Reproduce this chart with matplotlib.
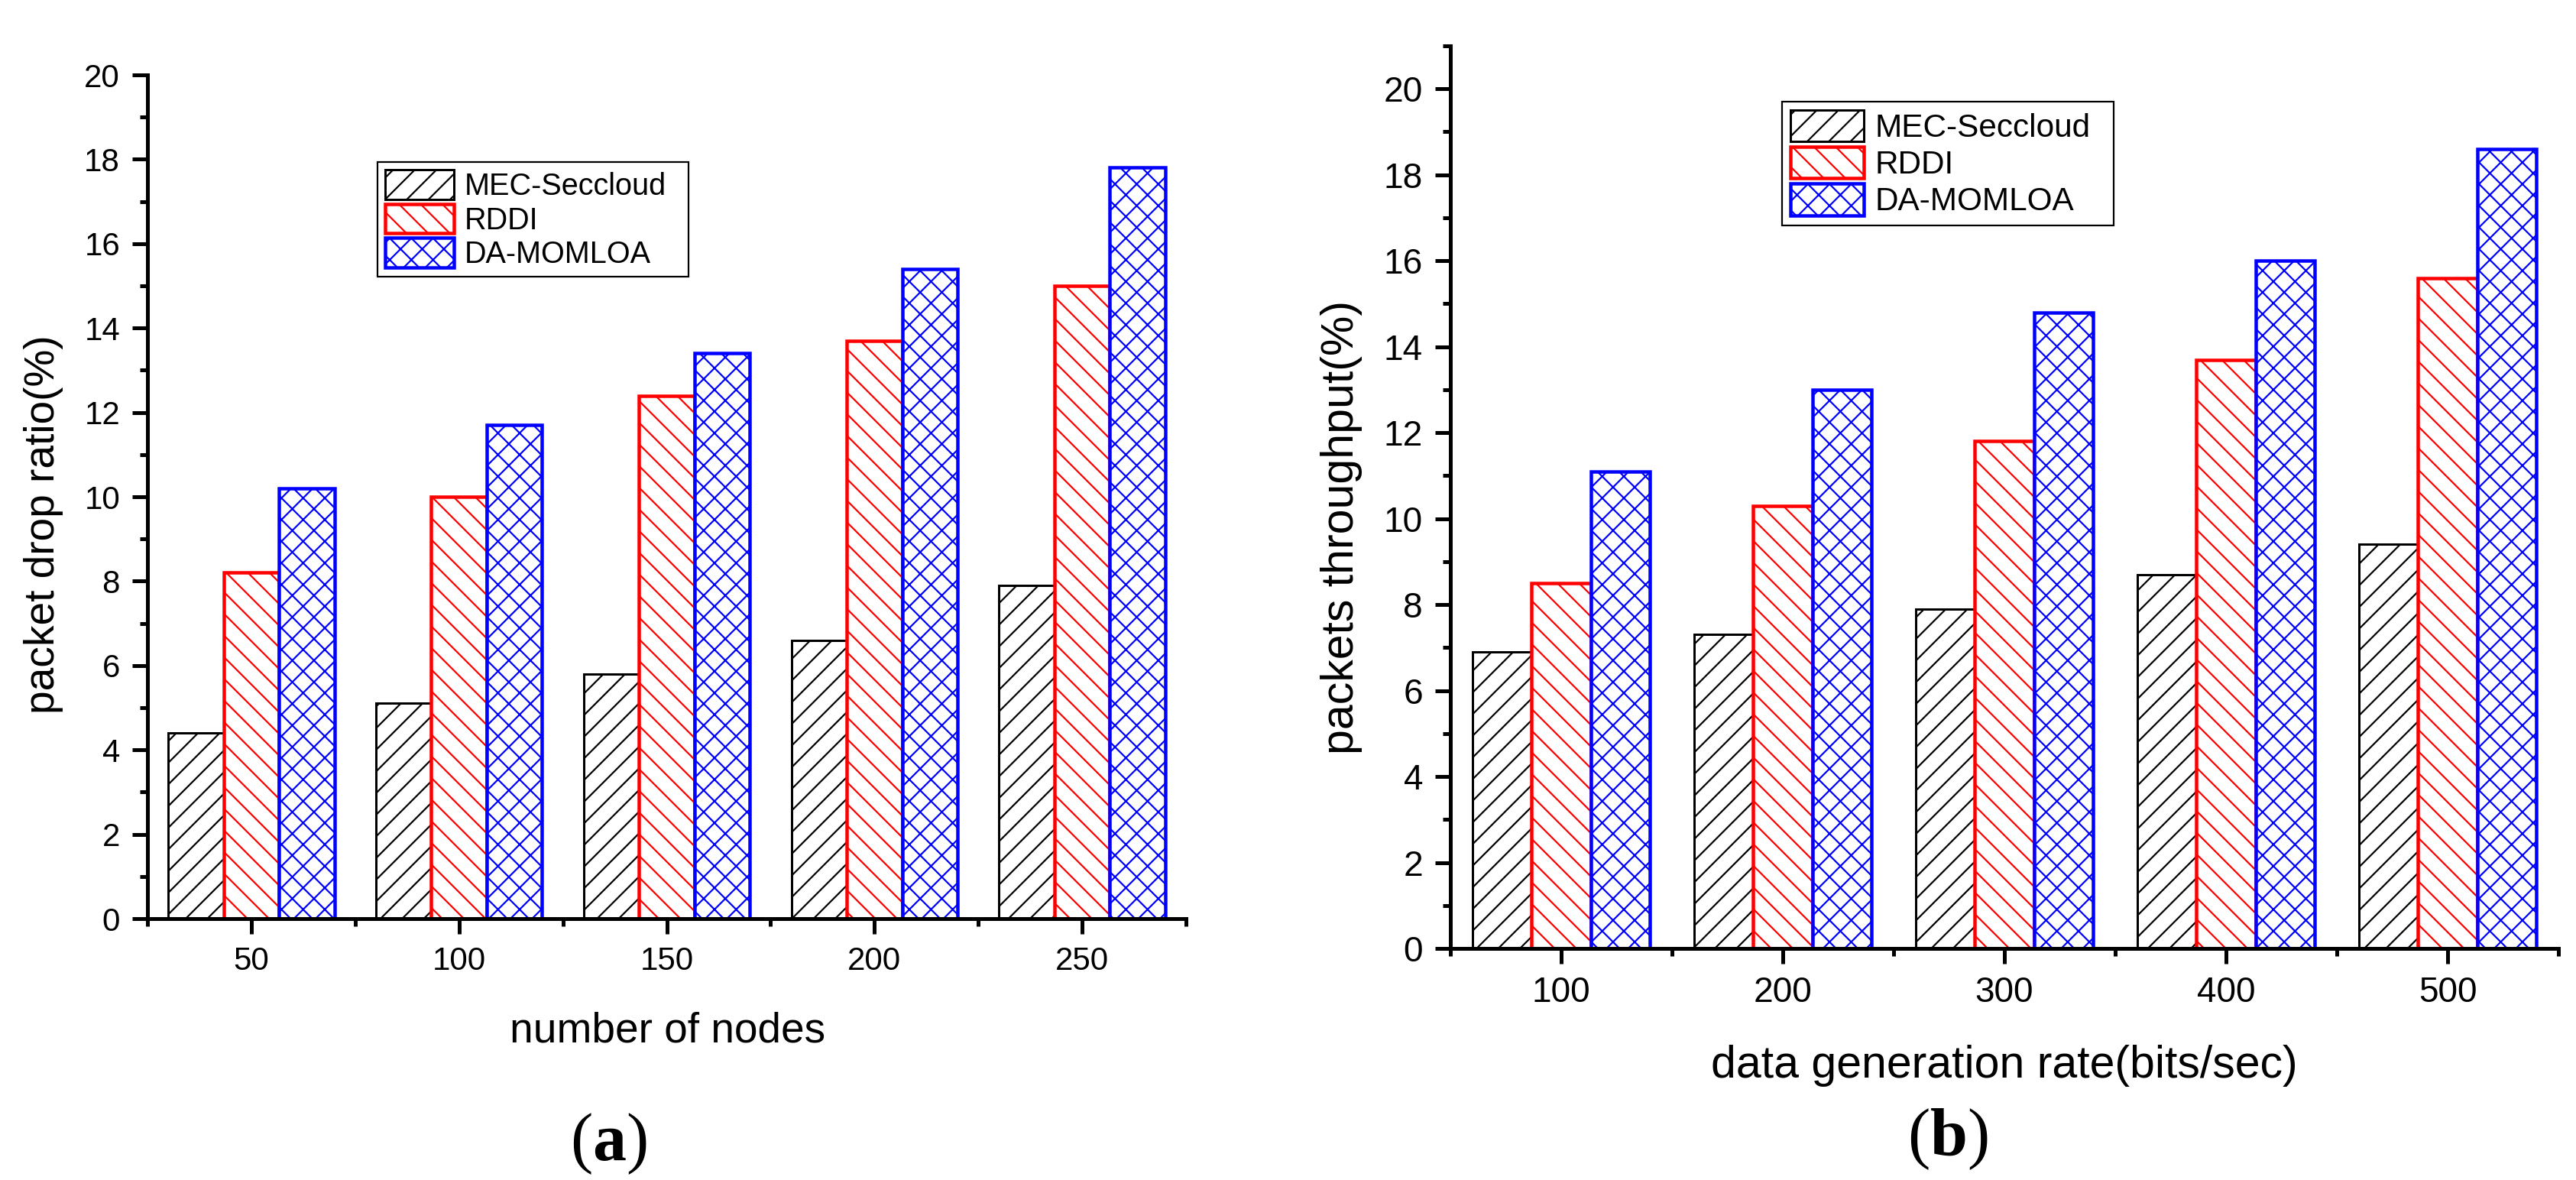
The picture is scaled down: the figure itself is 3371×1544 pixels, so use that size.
import numpy as np
import matplotlib
matplotlib.use("Agg")
import matplotlib.pyplot as plt

DPI = 85
W, H = 3371, 1544

# data
series = ["MEC-Seccloud", "RDDI", "DA-MOMLOA"]
nodes = ["50", "100", "150", "200", "250"]
drop_mec = [4.4, 5.1, 5.8, 6.6, 7.9]
drop_rddi = [8.2, 10.0, 12.4, 13.7, 15.0]
drop_da = [10.2, 11.7, 13.4, 15.4, 17.8]

rates = ["100", "200", "300", "400", "500"]
thr_mec = [6.9, 7.3, 7.9, 8.7, 9.4]
thr_rddi = [8.5, 10.3, 11.8, 13.7, 15.6]
thr_da = [11.1, 13.0, 14.8, 16.0, 18.6]

colors = ["black", "red", "blue"]
hatches = ["/", "\\", "x"]
edge_px = [3, 4.5, 4.5]


def pt(px):
    # pixels -> points at the figure dpi
    return px * 72.0 / DPI


plt.rcParams["font.family"] = ["Liberation Sans", "DejaVu Sans"]
plt.rcParams["hatch.linewidth"] = pt(2.2)
plt.rcParams["mathtext.fontset"] = "custom"
plt.rcParams["mathtext.bf"] = "Liberation Serif:bold"
plt.rcParams["mathtext.rm"] = "Liberation Serif"

fig = plt.figure(figsize=(W / DPI, H / DPI), dpi=DPI)


def panel(rect, cats, vals, ymax, tick_px, lab_px, leg_rect, leg_px):
    ax = fig.add_axes(rect)
    x = np.arange(len(cats))
    bw = 0.8 / 3
    for i, v in enumerate(vals):
        ax.bar(x + (i - 1) * bw, v, bw, facecolor="white", edgecolor=colors[i],
               hatch=hatches[i], linewidth=pt(edge_px[i]), label=series[i], zorder=2)
    ax.set_xlim(-0.5, len(cats) - 0.5)
    ax.set_ylim(0, ymax)
    ax.set_xticks(x)
    ax.set_xticklabels(cats)
    ax.set_xticks(np.arange(-0.5, len(cats), 1), minor=True)
    ax.set_yticks(np.arange(0, 21, 2))
    ax.set_yticks(np.arange(0, ymax + 0.5, 1), minor=True)
    for s in ["top", "right"]:
        ax.spines[s].set_visible(False)
    for s in ["left", "bottom"]:
        ax.spines[s].set_linewidth(pt(5))
        ax.spines[s].set_zorder(3)
    ax.tick_params(which="major", direction="out", length=pt(20), width=pt(5),
                   labelsize=pt(tick_px), pad=pt(16))
    ax.tick_params(which="minor", direction="out", length=pt(10), width=pt(5))
    leg = ax.legend(loc="upper left", bbox_to_anchor=leg_rect, bbox_transform=fig.transFigure,
                    mode="expand", borderaxespad=0, fontsize=pt(leg_px), frameon=True,
                    fancybox=False, framealpha=1, edgecolor="black",
                    handlelength=2.27, handleheight=1.13, handletextpad=0.35,
                    labelspacing=0.1, borderpad=0.25)
    leg.get_frame().set_linewidth(pt(2.2))
    return ax


panel([193 / W, 1 - 1202 / H, 1359 / W, 1104 / H], nodes,
      [drop_mec, drop_rddi, drop_da], 20, 42, 55,
      (494 / W, 1 - 367 / H, 407 / W, 155 / H), 39.6)
panel([1898 / W, 1 - 1241 / H, 1450 / W, 1181 / H], rates,
      [thr_mec, thr_rddi, thr_da], 21, 46, 59,
      (2332 / W, 1 - 300 / H, 434 / W, 167 / H), 42.3)

# axis titles
fig.text(874 / W, 1 - 1364 / H, "number of nodes", ha="center", va="baseline", fontsize=pt(55))
fig.text(57 / W, 1 - 686 / H, "packet drop ratio(%)", ha="center", va="center",
         rotation=90, fontsize=pt(55))
fig.text(2623 / W, 1 - 1410 / H, "data generation rate(bits/sec)", ha="center",
         va="baseline", fontsize=pt(59))
fig.text(1755 / W, 1 - 690 / H, "packets throughput(%)", ha="center", va="center",
         rotation=90, fontsize=pt(59))

# panel captions
fig.text(796 / W, 1 - 1518 / H, r"($\mathbf{a}$)", ha="center", va="baseline",
         fontsize=pt(88), family="Liberation Serif")
fig.text(2549 / W, 1 - 1512 / H, r"($\mathbf{b}$)", ha="center", va="baseline",
         fontsize=pt(88), family="Liberation Serif")

fig.savefig("out.png", dpi=DPI)
